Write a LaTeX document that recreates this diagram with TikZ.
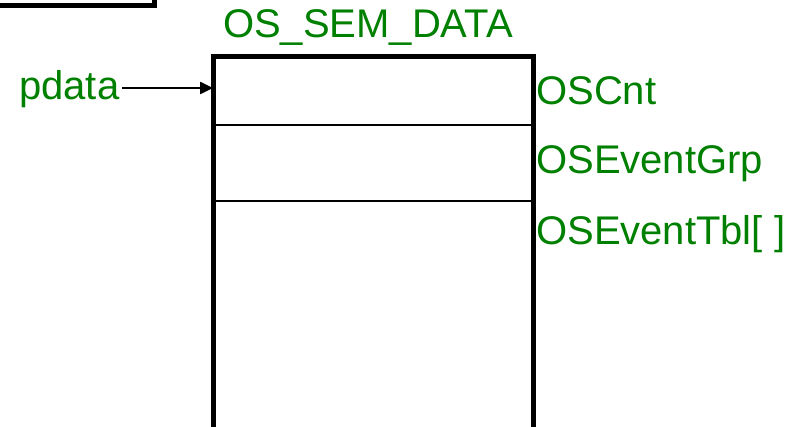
\documentclass[tikz,border=0pt]{standalone}
\usepackage{fontspec}
\setmainfont{Liberation Sans}
\usetikzlibrary{arrows.meta,positioning}
\definecolor{semgreen}{RGB}{0,128,0}

\begin{document}
\begin{tikzpicture}[x=1pt,y=-1pt,>={Triangle[length=13pt,width=12pt]},
    field/.style={draw,line width=2.7pt,minimum width=317.5pt,inner sep=0pt},
    lbl/.style={text=semgreen,font=\fontsize{40}{47}\selectfont,inner sep=0pt}]
  \useasboundingbox (0,0) rectangle (791,427);
  % partly hidden box in the corner
  \draw[line width=5pt] (-20,5.5) -- (154,5.5) -- (154,-20);
  % the OS_SEM_DATA block
  \node[field,minimum height=67.5pt] (cnt) at (373.25,91.25) {};
  \node[field,minimum height=76pt] (grp) at (373.25,163) {};
  \node[field,minimum height=229pt] (tbl) at (373.25,315.5) {};
  \draw[line width=5pt] (cnt.north west) rectangle (tbl.south east);
  \node[lbl,anchor=base] (title) at (368,38) {OS\_SEM\_DATA};
  \node[lbl,anchor=base west] (cntlbl) at (536,105) {OSCnt};
  \node[lbl,anchor=base west] (grplbl) at (536,174) {OSEventGrp};
  \node[lbl,anchor=base west] (tbllbl) at (536,245) {OSEventTbl[ ]};
  \node[lbl,anchor=base west] (pdata) at (19,100) {pdata};
  \draw[->,line width=2pt] (pdata.east |- 0,88) ++(3,0) coordinate (ptr) -- (ptr -| cnt.west);
\end{tikzpicture}
\end{document}
